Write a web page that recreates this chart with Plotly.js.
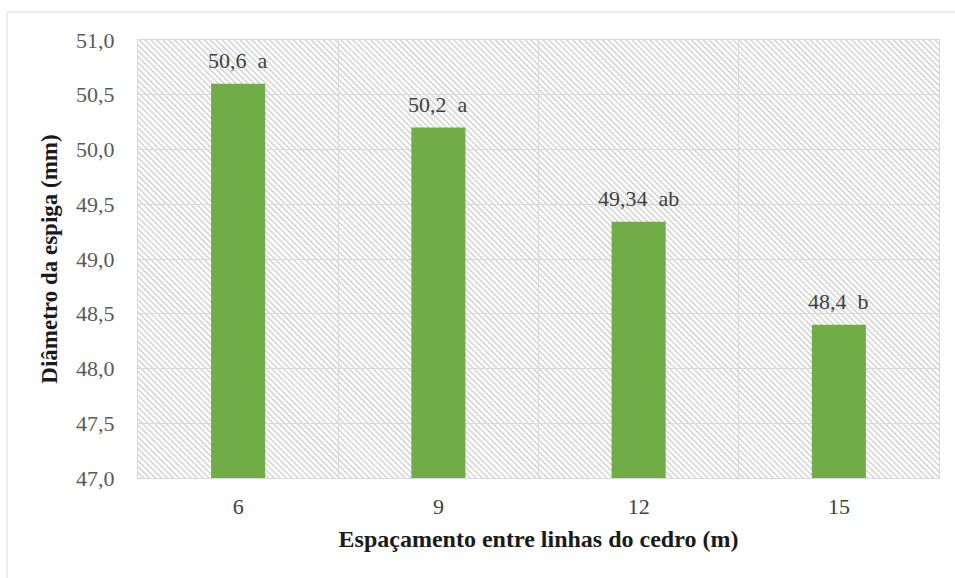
<!DOCTYPE html>
<html>
<head>
<meta charset="utf-8">
<script src="https://cdn.plot.ly/plotly-3.0.1.min.js"></script>
<style>
  html, body { margin: 0; padding: 0; background: #fff; }
  #chart { width: 955px; height: 578px; }
</style>
</head>
<body>
<div id="chart"></div>
<script>
// Spacing between cedar rows (m) and mean ear diameter (mm)
const espacamentos = ['6', '9', '12', '15'];
const diametros = [50.6, 50.2, 49.34, 48.4];
const letras = ['a', 'a', 'ab', 'b'];
const yTicks = [47.0, 47.5, 48.0, 48.5, 49.0, 49.5, 50.0, 50.5, 51.0];

const W = 955, H = 578;
const M = { l: 138, r: 16, t: 40, b: 100 };
const PW = W - M.l - M.r, PH = H - M.t - M.b;

// diagonal hatch fill for the plotting area
const hatchSvg =
  '<svg xmlns="http://www.w3.org/2000/svg" width="' + PW + '" height="' + PH + '">' +
  '<defs><pattern id="h" patternUnits="userSpaceOnUse" width="4.2" height="4.2" patternTransform="rotate(-45)">' +
  '<rect x="0" y="0" width="1.5" height="4.2" fill="#d3d3d3"/></pattern></defs>' +
  '<rect width="100%" height="100%" fill="#ffffff"/>' +
  '<rect width="100%" height="100%" fill="url(#h)"/></svg>';
const hatchUri = 'data:image/svg+xml;charset=utf-8,' + encodeURIComponent(hatchSvg);

const fmt = v => String(v).replace('.', ',');
const rotulos = diametros.map((v, i) => fmt(v) + '\u00A0\u00A0' + letras[i]);

const serif = 'Liberation Serif';

const trace = {
  type: 'bar',
  x: espacamentos,
  y: diametros,
  width: 0.27,
  marker: { color: '#70ad47', line: { width: 0 } },
  hoverinfo: 'x+y'
};

// px -> paper helpers for the outer frame
const px = p => (p - M.l) / PW;
const py = p => 1 - (p - M.t) / PH;

const layout = {
  width: W,
  height: H,
  margin: M,
  paper_bgcolor: '#ffffff',
  plot_bgcolor: '#ffffff',
  separators: ', ',
  showlegend: false,
  font: { family: serif, size: 22, color: '#595959' },
  xaxis: {
    type: 'category',
    categoryorder: 'array',
    categoryarray: espacamentos,
    range: [-0.5, espacamentos.length - 0.5],
    tickson: 'boundaries',
    showgrid: true,
    gridcolor: '#d9d9d9',
    gridwidth: 1,
    showline: true,
    linecolor: '#d9d9d9',
    linewidth: 1,
    mirror: true,
    ticks: '',
    ticklabelstandoff: 9,
    tickfont: { family: serif, size: 22, color: '#404040' },
    zeroline: false,
    fixedrange: true,
    title: {
      text: 'Espaçamento entre linhas do cedro (m)',
      font: { family: serif, size: 24, color: '#1a1a1a', weight: 'bold' },
      standoff: 11
    }
  },
  yaxis: {
    range: [47, 51],
    tickvals: yTicks,
    tickformat: '.1f',
    showgrid: true,
    gridcolor: '#d9d9d9',
    gridwidth: 1,
    showline: true,
    linecolor: '#d9d9d9',
    linewidth: 1,
    mirror: true,
    ticks: '',
    ticklabelstandoff: 18,
    tickfont: { family: serif, size: 22, color: '#595959' },
    zeroline: false,
    fixedrange: true,
    title: {
      text: 'Diâmetro da espiga (mm)',
      font: { family: serif, size: 23, color: '#1a1a1a', weight: 'bold' },
      standoff: 12
    }
  },
  images: [{
    source: hatchUri,
    xref: 'paper', yref: 'paper',
    x: 0, y: 1, sizex: 1, sizey: 1,
    xanchor: 'left', yanchor: 'top',
    sizing: 'stretch',
    layer: 'below'
  }],
  shapes: [{
    type: 'rect',
    xref: 'paper', yref: 'paper',
    x0: px(7), x1: px(W + 10), y0: py(12), y1: py(H + 10),
    line: { color: '#d9d9d9', width: 1 },
    fillcolor: 'rgba(0,0,0,0)',
    layer: 'below'
  }],
  // value labels above each bar (category index positions)
  annotations: espacamentos.map((c, i) => ({
    x: i,
    y: diametros[i],
    xref: 'x', yref: 'y',
    text: rotulos[i],
    showarrow: false,
    yanchor: 'bottom',
    yshift: 9,
    font: { family: serif, size: 22, color: '#404040' }
  }))
};

Plotly.newPlot('chart', [trace], layout, { displayModeBar: false, staticPlot: true });
</script>
</body>
</html>
